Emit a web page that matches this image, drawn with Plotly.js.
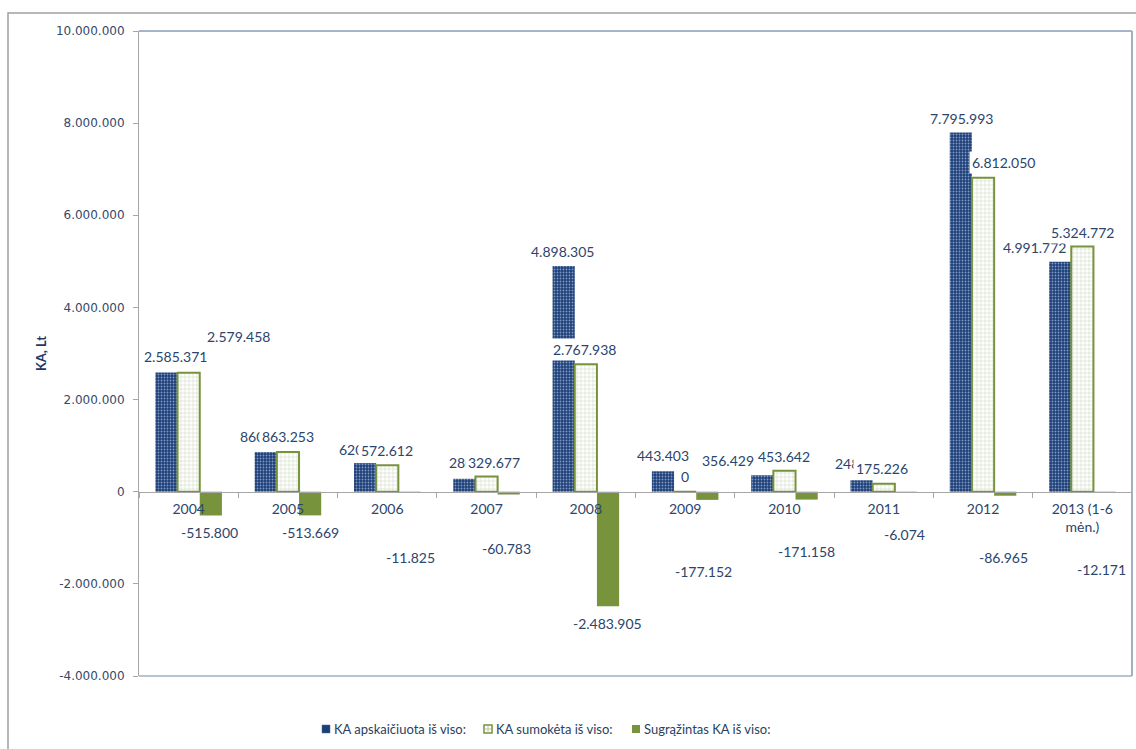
<!DOCTYPE html>
<html><head><meta charset="utf-8">
<script src="https://cdn.plot.ly/plotly-3.0.1.min.js"></script>
<style>html,body{margin:0;padding:0;background:#fff}#chart{width:1136px;height:749px}</style>
</head><body><div id="chart"></div>
<script>
// ---- data ----
const categories = ["2004","2005","2006","2007","2008","2009","2010","2011","2012","2013 (1-6 mėn.)"];
const tickLabels = ["2004","2005","2006","2007","2008","2009","2010","2011","2012","2013 (1-6<br>mėn.)"];
const apskaiciuota = [2585371, 860000, 620000, 280000, 4898305, 443403, 356429, 248000, 7795993, 4991772];
const sumoketa = [2579458, 863253, 572612, 329677, 2767938, 0, 453642, 175226, 6812050, 5324772];
const sugrazintas = [-515800, -513669, -11825, -60783, -2483905, -177152, -171158, -6074, -86965, -12171];
const seriesNames = ["KA apskaičiuota iš viso:", "KA sumokėta iš viso:", "Sugrąžintas KA iš viso:"];
const yTickValues = [-4000000, -2000000, 0, 2000000, 4000000, 6000000, 8000000, 10000000];
const yAxisTitle = "KA, Lt";

// ---- label placement (pixel offsets, as moved in the original) ----
const blueDx = [-13, -22, -22, -12, -23, -22, -56, -23, -22, -48];
const blueDy = [16, 16, 14, 16, 15, 16, 15, 17, 14, 14];
const whiteDx = [50, 0, 0, 7, -1, 0, 0, -2, 20, 0];
const whiteDy = [36, 15, 15, 14, 15, 15, 14, 15, 15, 14];
const greenDx = [21, 23, 23, 20, 22, 18, 22, 21, 20, 19];
const greenDy = [-17, -17, -65, -54, -17, -72, -52, -43, -62, -77];
// legend entries: left pixel of swatch
const legendX = [322, 484, 632];

function fmt(v){
  const s = Math.abs(Math.round(v)).toString().replace(/\B(?=(\d{3})+(?!\d))/g, ".");
  return (v < 0 ? "-" : "") + s;
}

const idx = categories.map((_, i) => i);
const labelColor = "#2b456d";
const blue = "#1d3f78", green = "#77933c";

const traces = [
  {type:"bar", name:seriesNames[0], x:idx, y:apskaiciuota, showlegend:false, hoverinfo:"y",
   marker:{color:blue, line:{width:0}, pattern:{shape:".", bgcolor:blue, fgcolor:"#8299c2", size:3, solidity:0.3}}},
  {type:"bar", name:seriesNames[1], x:idx, y:sumoketa, showlegend:false, hoverinfo:"y",
   marker:{color:"#ffffff", line:{color:green, width:2}, pattern:{shape:"+", bgcolor:"#ffffff", fgcolor:"#cdd3bf", size:4, solidity:0.25}}},
  {type:"bar", name:seriesNames[2], x:idx, y:sugrazintas, showlegend:false, hoverinfo:"y",
   marker:{color:green, line:{width:0}}}
];

const annotations = [];
function addLabels(vals, dx, dy){
  vals.forEach((v,i)=>{
    annotations.push({x:i, y:v, xref:"x", yref:"y", text:fmt(v), showarrow:false,
      xshift:dx[i], yshift:dy[i], yanchor:"middle", xanchor:"center",
      bgcolor:"#ffffff", borderpad:2, font:{family:"Lato, sans-serif", size:14, color:labelColor}});
  });
}
addLabels(apskaiciuota, blueDx, blueDy);
addLabels(sugrazintas, greenDx, greenDy);
addLabels(sumoketa, whiteDx, whiteDy);

const W = 1136, H = 749, L = 139, R = 4, T = 31, B = 73;
const pw = W - L - R, ph = H - T - B;
const px = x => (x - L) / pw;
const py = y => (H - B - y) / ph;

const shapes = [
  {type:"line", xref:"paper", yref:"paper", x0:0, x1:1, y0:1, y1:1, line:{color:"#4f6b92", width:1}},
  {type:"line", xref:"paper", yref:"paper", x0:1, x1:1, y0:0, y1:1, line:{color:"#9fb0c4", width:2}},
  {type:"line", xref:"paper", yref:"paper", x0:0, x1:1, y0:0, y1:0, line:{color:"#9fb0c4", width:1.5}},
  {type:"rect", xref:"paper", yref:"paper", x0:px(8), x1:px(1142), y0:py(755), y1:py(13), line:{color:"#a0a0a0", width:1.5}, fillcolor:"rgba(0,0,0,0)"}
];

// legend (drawn as small swatches + text, like the original)
const legY = 729, sw = 8;
const swatchStyles = [
  {fill:blue, line:"#4a6aa0", w:0.5},
  {fill:"#ffffff", line:green, w:1.5},
  {fill:green, line:green, w:0}
];
seriesNames.forEach((name, k) => {
  const x0 = legendX[k];
  const st = swatchStyles[k];
  shapes.push({type:"rect", xref:"paper", yref:"paper", x0:px(x0), x1:px(x0+sw), y0:py(legY+sw/2), y1:py(legY-sw/2),
    fillcolor:st.fill, line:{color:st.line, width:st.w}});
  if (k === 1) {
    shapes.push({type:"line", xref:"paper", yref:"paper", x0:px(x0+1), x1:px(x0+sw-1), y0:py(legY), y1:py(legY), line:{color:"#b9c29f", width:1}});
    shapes.push({type:"line", xref:"paper", yref:"paper", x0:px(x0+sw/2), x1:px(x0+sw/2), y0:py(legY+sw/2-1), y1:py(legY-sw/2+1), line:{color:"#b9c29f", width:1}});
  }
  annotations.push({xref:"paper", yref:"paper", x:px(x0+sw+2), y:py(legY), xanchor:"left", yanchor:"middle",
    text:name, showarrow:false, font:{family:"Lato, sans-serif", size:13, color:"#2a3f5f"}});
});

const layout = {
  width:W, height:H,
  margin:{l:L, r:R, t:T, b:B},
  paper_bgcolor:"#ffffff", plot_bgcolor:"#ffffff",
  barmode:"group", bargap:0.33, bargroupgap:0,
  font:{family:"Lato, sans-serif", size:14, color:labelColor},
  showlegend:false,
  xaxis:{type:"linear", range:[-0.5, categories.length - 0.5], anchor:"free", position:4/14,
         showline:true, linecolor:"#a6a6a6", linewidth:1,
         tickmode:"array", tickvals:idx, ticktext:tickLabels, ticks:"", showgrid:false, zeroline:false,
         ticklabelstandoff:4,
         minor:{tick0:0.5, dtick:1, ticks:"outside", ticklen:5, tickcolor:"#a6a6a6", showgrid:false},
         tickfont:{family:"Lato, sans-serif", size:14, color:labelColor}, fixedrange:true},
  yaxis:{range:[-4000000, 10000000], tickmode:"array", tickvals:yTickValues, ticktext:yTickValues.map(fmt),
         ticks:"outside", ticklen:5, tickcolor:"#a6a6a6", showline:true, linecolor:"#a6a6a6", linewidth:1,
         showgrid:false, zeroline:false, ticklabelstandoff:6,
         tickfont:{family:"DejaVu Sans, sans-serif", size:12, color:"#34496b"},
         title:{text:"<b>"+yAxisTitle+"</b>", standoff:6, font:{family:"Lato, sans-serif", size:13, color:"#1f3864"}}, fixedrange:true},
  shapes:shapes,
  annotations:annotations
};

Plotly.newPlot("chart", traces, layout, {displayModeBar:false, staticPlot:true});
</script>
</body></html>
